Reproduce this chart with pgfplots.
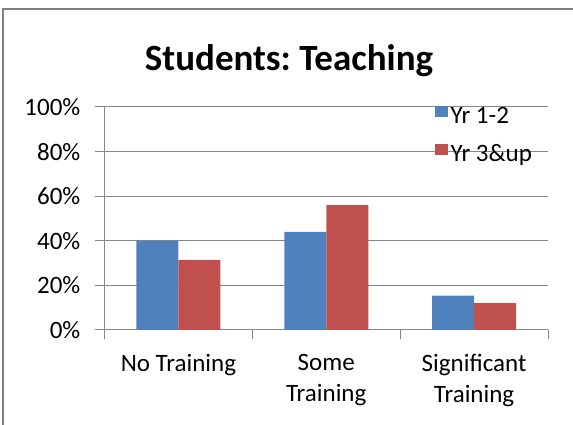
\documentclass[border=0pt]{standalone}
\usepackage{fontspec}
\setmainfont{Carlito}
\usepackage{pgfplots}
\pgfplotsset{compat=1.18}
\definecolor{yrone}{HTML}{4F81BD}
\definecolor{yrthree}{HTML}{C0504D}
\definecolor{gridgray}{RGB}{134,134,134}
\definecolor{framegray}{RGB}{128,128,128}

\begin{document}
\frenchspacing
\begin{tikzpicture}[x=1pt,y=1pt]
\useasboundingbox (0,0) rectangle (573,425);
% chart frame (only left and top edges visible)
\draw[framegray, line width=2pt] (3,-5) -- (3,416) -- (580,416);
\node[font=\bfseries\fontsize{37}{42}\selectfont, anchor=base] at (289,354) {Students: Teaching};
\begin{axis}[
  at={(104.5pt,95pt)}, anchor=south west,
  scale only axis, width=443.5pt, height=223pt,
  ybar=0pt, bar width=42pt,
  xmin=-0.5, xmax=2.5, ymin=0, ymax=100,
  axis lines*=left,
  axis line style={gridgray, line width=1pt, -},
  tick align=outside, major tick length=9pt,
  tick style={gridgray, line width=1pt},
  xtick={-0.5,0.5,1.5,2.5},
  x tick label as interval,
  xticklabels={No Training, Some\\Training, Significant\\Training},
  xticklabel style={align=center, inner sep=0pt, yshift=-15pt},
  ytick={0,20,40,60,80,100},
  yticklabels={0\%,20\%,40\%,60\%,80\%,100\%},
  yticklabel style={inner sep=0pt, xshift=-15pt},
  ymajorgrids,
  grid style={gridgray, line width=1pt},
  tick label style={font=\fontsize{25}{31}\selectfont, text=black},
  legend style={at={(0.7437,1.006)}, anchor=north west, draw=none, fill=none,
    inner sep=0pt, font=\fontsize{25}{31}\selectfont,
    row sep=14pt, column sep=2.5pt,
    nodes={inner sep=0pt, text height=17pt, text depth=6pt}},
  legend cell align=left,
  legend image code/.code={\fill[#1] (0pt,1pt) rectangle (13.5pt,12.5pt);},
]
\addplot[fill=yrone, draw=none] coordinates {(0,40) (1,44) (2,15.4)};
\addlegendentry{Yr 1-2}
\addplot[fill=yrthree, draw=none] coordinates {(0,31.4) (1,56) (2,12)};
\addlegendentry{Yr 3\&up}
\end{axis}
\end{tikzpicture}
\end{document}
